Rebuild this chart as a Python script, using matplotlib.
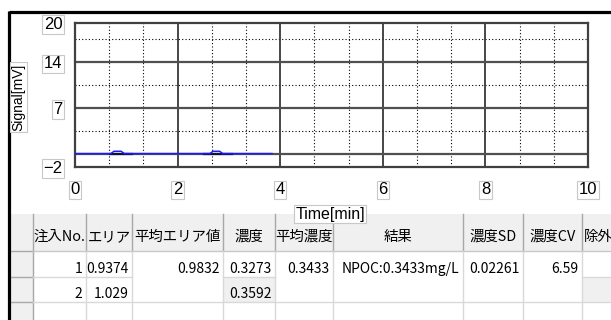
import matplotlib.pyplot as plt
from matplotlib.patches import Rectangle

# chromatogram trace (min, mV)
time_min = [0.0, 0.70, 0.76, 0.90, 0.96, 2.63, 2.69, 2.82, 2.88, 3.84]
signal_mv = [0.05, 0.05, 0.4, 0.4, 0.05, 0.05, 0.4, 0.4, 0.05, 0.05]
peak_start = [0.68, 2.51]
peak_end = [1.11, 3.06]

x_ticks = [0, 2, 4, 6, 8, 10]
y_ticks = [-2, 7, 14, 20]
y_major_grid = [0, 7, 14]
y_minor_grid = [3.5, 10.5, 17.5]

headers = ["注入No.", "エリア", "平均エリア値", "濃度", "平均濃度", "結果", "濃度SD", "濃度CV", "除外"]
row1 = ["1", "0.9374", "0.9832", "0.3273", "0.3433", "NPOC:0.3433mg/L", "0.02261", "6.59", ""]
row2 = ["2", "1.029", "", "0.3592", "", "", "", "", ""]
merged = [False, False, True, False, True, True, True, True, False]
gray_row2 = [False, False, False, True, False, False, False, False, True]

W, H = 611, 320
fig = plt.figure(figsize=(W / 100, H / 100), dpi=100)

# overlay in pixel coordinates for window frame and table
bg = fig.add_axes([0, 0, 1, 1])
bg.set_xlim(0, W)
bg.set_ylim(H, 0)
bg.axis("off")

jp = ["Noto Sans CJK JP", "DejaVu Sans"]
col_edges = [33, 86, 132, 223, 275, 333, 463, 523, 582, 640]
top, hdr_bot, r1_bot, r2_bot = 214, 251, 277, 302
light = "#d9d9d9"
mid = "#a8a8a8"
fill = "#f0f0f0"
fs_head = 10.4
fs_cell = 10

# row header column
bg.add_patch(Rectangle((9, top), col_edges[0] - 9, H - top, fc=fill, ec="none"))
for yy in [hdr_bot, r1_bot, r2_bot]:
    bg.plot([9, col_edges[0]], [yy, yy], color=mid, lw=1)
bg.plot([col_edges[0], col_edges[0]], [top, H], color=mid, lw=1)

# header row
bg.add_patch(Rectangle((col_edges[0], top), W - col_edges[0], hdr_bot - top, fc=fill, ec="none"))
bg.plot([col_edges[0], W], [hdr_bot, hdr_bot], color="#c8c8c8", lw=1)

for i, name in enumerate(headers):
    x0, x1 = col_edges[i], col_edges[i + 1]
    if gray_row2[i]:
        bg.add_patch(Rectangle((x0, r1_bot), x1 - x0, r2_bot - r1_bot, fc=fill, ec="none"))
    if not merged[i]:
        bg.plot([x0, x1], [r1_bot, r1_bot], color=light, lw=1)
    bg.plot([x1, x1], [top, hdr_bot], color=mid, lw=1)
    bg.plot([x1, x1], [hdr_bot, H], color=light, lw=1)
    if i == len(headers) - 1:
        bg.text(x0 + 1.5, 241, name, ha="left", va="baseline", fontsize=fs_head, family=jp)
    else:
        bg.text((x0 + x1) / 2, 241, name, ha="center", va="baseline", fontsize=fs_head, family=jp)
    if row1[i]:
        bg.text(x1 - 3.5, 273, row1[i], ha="right", va="baseline", fontsize=fs_cell, family=jp)
    if row2[i]:
        bg.text(x1 - 3.5, 298, row2[i], ha="right", va="baseline", fontsize=fs_cell, family=jp)
bg.plot([col_edges[0], W], [r2_bot, r2_bot], color=light, lw=1)

# window frame
bg.plot([9, W], [12, 12], color="black", lw=2.3, solid_capstyle="butt")
bg.plot([9, 9], [11, H], color="black", lw=2.3, solid_capstyle="butt")

# chart
ax = fig.add_axes([75 / W, 1 - 167 / H, 513 / W, 144 / H])
ax.set_xlim(0, 10)
ax.set_ylim(-2, 20)

for t in [k * 2 / 3 for k in range(1, 15) if k % 3 != 0]:
    ax.axvline(t, color="black", lw=0.8, ls=(0, (1, 2)), zorder=1)
for v in y_minor_grid:
    ax.axhline(v, color="black", lw=0.8, ls=(0, (1, 2)), zorder=1)
for t in x_ticks[1:-1]:
    ax.axvline(t, color="#383838", lw=1.3, zorder=2)
for v in y_major_grid:
    ax.axhline(v, color="#505050", lw=1.6, zorder=2)

ax.plot(time_min, signal_mv, color="#1a1aff", lw=1.1, zorder=4)
for s, e in zip(peak_start, peak_end):
    ax.plot([s, e], [0, 0], color="#101040", lw=1.6, zorder=3)

for sp in ax.spines.values():
    sp.set_color("#404040")
    sp.set_linewidth(1.6)

ax.set_xticks(x_ticks)
ax.set_yticks(y_ticks)
ax.set_yticklabels(["−2", "7", "14", "20"])
ax.tick_params(length=0, labelsize=12)
ax.tick_params(axis="x", pad=11)
ax.tick_params(axis="y", pad=9)
box = dict(boxstyle="square,pad=0.1", fc="white", ec="#c8c8c8", lw=0.8)
for lbl in ax.get_xticklabels() + ax.get_yticklabels():
    lbl.set_family("Liberation Sans")
    lbl.set_bbox(box)

ax.set_xlabel("Time[min]", fontsize=11.5, family="Liberation Sans", bbox=box)
ax.xaxis.set_label_coords(0.497, -0.275)
ax.set_ylabel("Signal[mV]", fontsize=10, family="Liberation Sans", bbox=box)
ax.yaxis.set_label_coords(-0.097, 0.486)

fig.savefig("out.png", dpi=100)
